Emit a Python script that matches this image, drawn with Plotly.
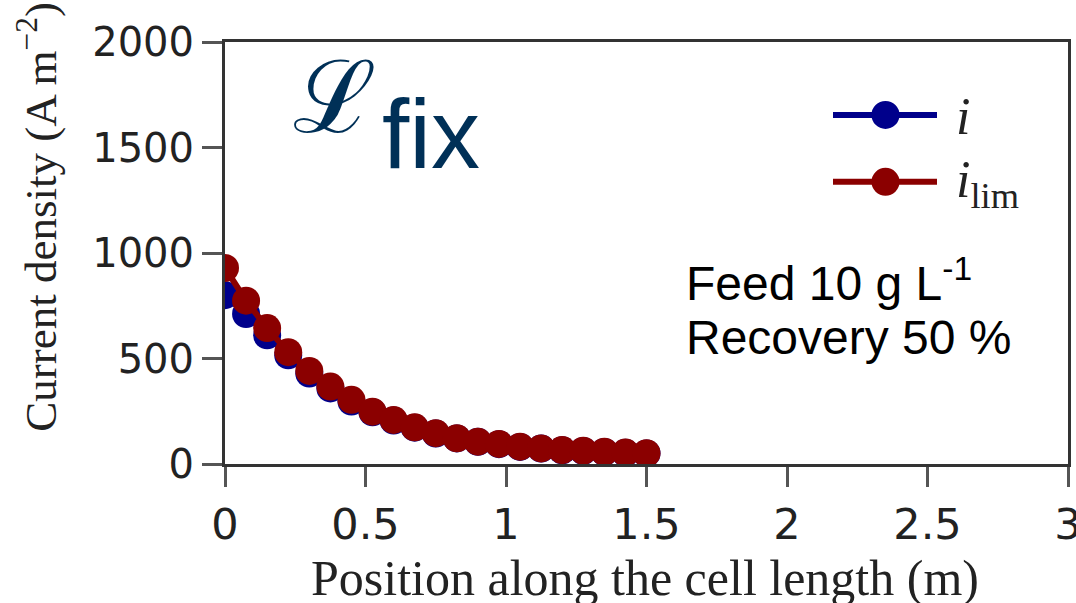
import plotly.graph_objects as go

# ---- data ----
position_m = [0.0, 0.075, 0.15, 0.225, 0.3, 0.375, 0.45, 0.525, 0.6, 0.675, 0.75,
              0.825, 0.9, 0.975, 1.05, 1.125, 1.2, 1.275, 1.35, 1.425, 1.5]
current_i = [800, 711, 610, 515, 429, 358, 296, 245, 206, 172, 144,
             121, 105, 94, 81, 73, 65, 62, 57, 53, 50]
current_ilim = [929, 774, 644, 530, 441, 367, 304, 248, 209, 174, 146,
                122, 106, 95, 82, 74, 66, 63, 58, 54, 51]
x_ticks = [0, 0.5, 1, 1.5, 2, 2.5, 3]
x_tick_labels = ["0", "0.5", "1", "1.5", "2", "2.5", "3"]
y_ticks = [0, 500, 1000, 1500, 2000]
y_tick_labels = ["0", "500", "1000", "1500", "2000"]
series_names = ["<i>i</i>", "<i>i</i><sub>lim</sub>"]
series_colors = ["#00008B", "#8B0000"]
condition_lines = ["Feed 10 g L<sup>-1</sup>", "Recovery 50 %"]

W, H = 1076, 603
L, R, T, B = 225, 8, 42, 138.5
PW, PH = W - L - R, H - T - B


def px(x):
    return (x - L) / PW


def py(y):
    return (H - B - y) / PH


fig = go.Figure()
for ys, name, col in zip([current_i, current_ilim], series_names, series_colors):
    fig.add_trace(go.Scatter(
        x=position_m, y=ys, mode="lines+markers", name=name,
        line=dict(color=col, width=6),
        marker=dict(color=col, size=28),
        showlegend=False,
    ))

axis_common = dict(
    showline=True, linecolor="#333333", linewidth=3, mirror=True,
    ticks="outside", ticklen=20, tickwidth=3, tickcolor="#555555",
    showgrid=False, zeroline=False, ticklabeloverflow="allow", automargin=False,
)
fig.update_xaxes(range=[0, 3], tickvals=x_ticks, ticktext=x_tick_labels,
                 tickfont=dict(family="DejaVu Sans", size=43, color="#222222"),
                 ticklabelstandoff=0, **axis_common)
fig.update_yaxes(range=[0, 2000], tickvals=y_ticks, ticktext=y_tick_labels,
                 tickfont=dict(family="DejaVu Sans", size=40, color="#222222"),
                 ticklabelstandoff=0, **axis_common)

annotations = []
# axis titles
annotations.append(dict(
    text="Position along the cell length (m)", x=px(645), y=py(579),
    xref="paper", yref="paper", xanchor="center", yanchor="middle", showarrow=False,
    font=dict(family="Liberation Serif", size=50, color="#222222")))
annotations.append(dict(
    text="Current density (A m<sup>\u22122</sup>)", x=px(38), y=py(217), textangle=-90,
    xref="paper", yref="paper", xanchor="center", yanchor="middle", showarrow=False,
    font=dict(family="Liberation Serif", size=45, color="#222222")))
# L fix label
annotations.append(dict(
    text="\u2112", x=px(334), y=py(98), xref="paper", yref="paper",
    xanchor="center", yanchor="middle", showarrow=False,
    font=dict(family="DejaVu Serif", size=100, color="#003057")))
annotations.append(dict(
    text="fix", x=px(431), y=py(134), xref="paper", yref="paper",
    xanchor="center", yanchor="middle", showarrow=False,
    font=dict(family="Liberation Sans", size=98, color="#003057")))
# condition text
for k, line in enumerate(condition_lines):
    annotations.append(dict(
        text=line, x=px(684), y=py(280 + 58 * k),
        xref="paper", yref="paper", xanchor="left", yanchor="middle", align="left",
        showarrow=False, font=dict(family="Liberation Sans", size=48, color="#000000")))

# custom legend
shapes = []
leg_y = [115, 182]
for name, col, yy in zip(series_names, series_colors, leg_y):
    shapes.append(dict(type="line", xref="paper", yref="paper",
                       x0=px(833), x1=px(937), y0=py(yy), y1=py(yy),
                       line=dict(color=col, width=6)))
    shapes.append(dict(type="circle", xref="paper", yref="paper",
                       xsizemode="pixel", ysizemode="pixel",
                       xanchor=px(885.5), yanchor=py(yy),
                       x0=-14, x1=14, y0=-14, y1=14,
                       fillcolor=col, line=dict(color=col, width=0)))
    annotations.append(dict(text=name, x=px(954), y=py(yy + 2), xref="paper", yref="paper",
                            xanchor="left", yanchor="middle", showarrow=False,
                            font=dict(family="Liberation Serif", size=52, color="#222222")))

fig.update_layout(
    width=W, height=H,
    margin=dict(l=L, r=R, t=T, b=B, autoexpand=False),
    paper_bgcolor="white", plot_bgcolor="white",
    annotations=annotations, shapes=shapes,
    showlegend=False,
)

fig.write_html("out.html")
